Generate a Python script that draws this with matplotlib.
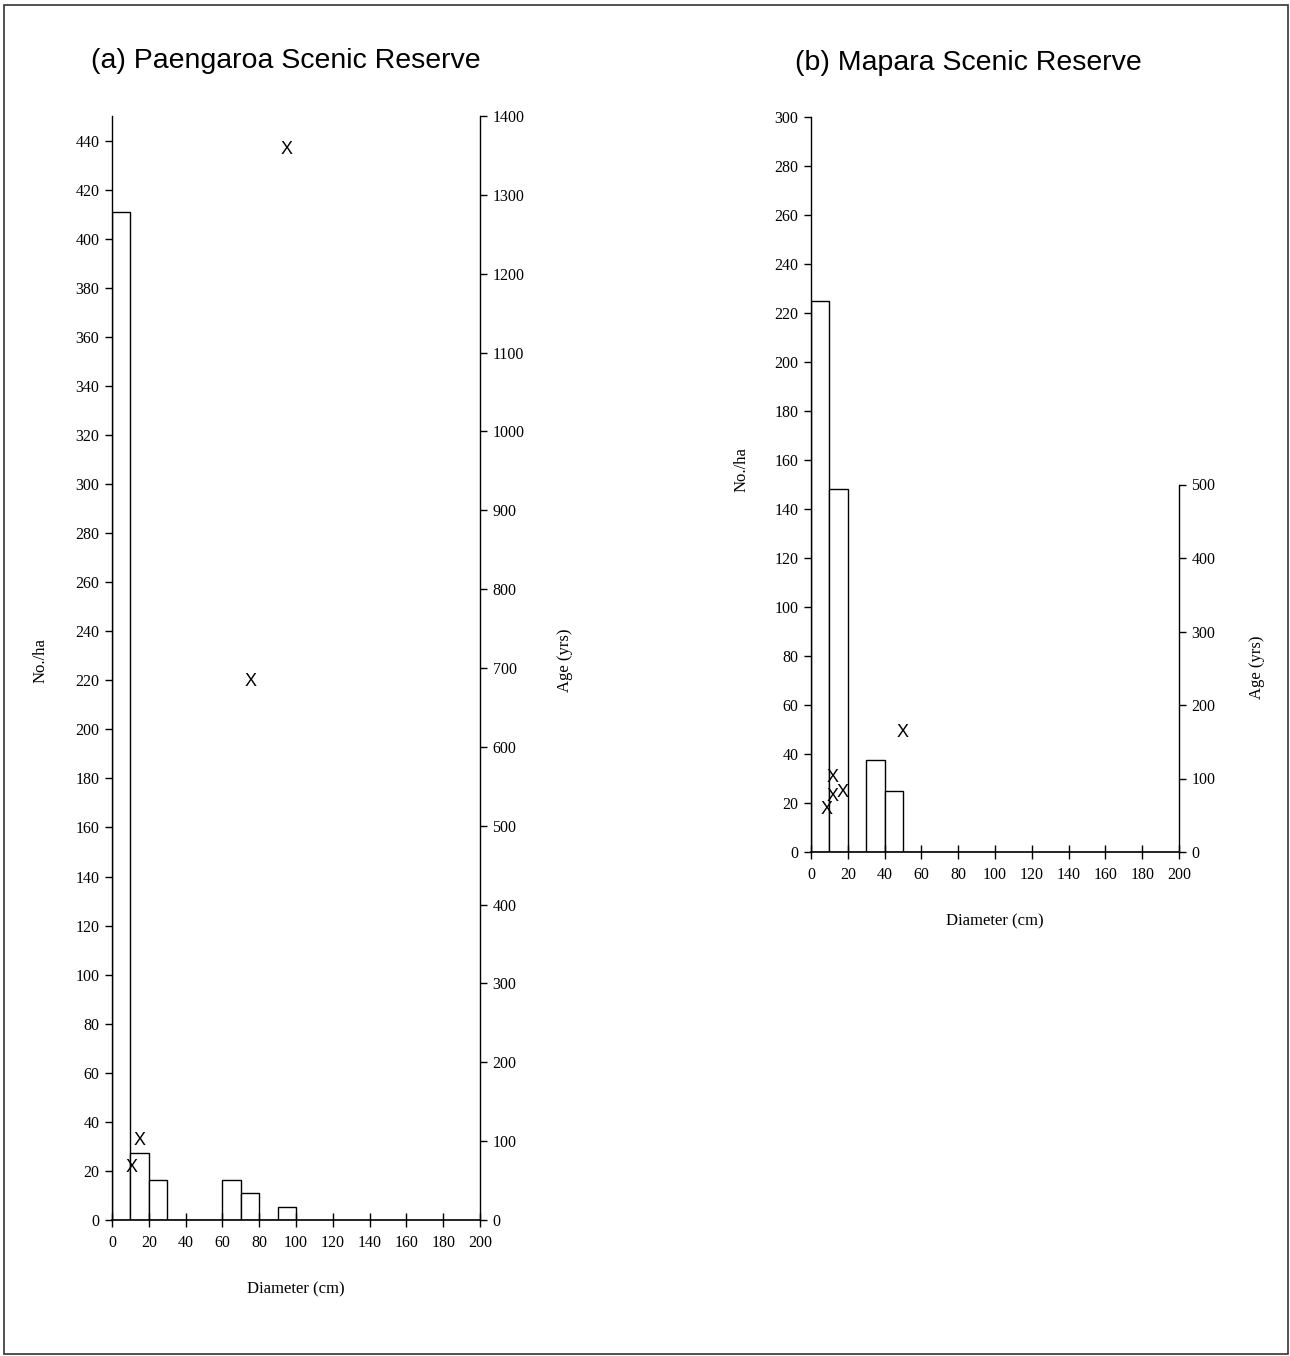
#!/usr/bin/env python3
"""Diameter distribution (No./ha) with tree ages, two scenic reserves."""
import matplotlib
matplotlib.use("Agg")
import matplotlib.pyplot as plt
from matplotlib.patches import Rectangle

# --- data ------------------------------------------------------------
bin_left = [0, 10, 20, 30, 40, 50, 60, 70, 80, 90]
bin_width = 10

# (a) Paengaroa: stems per ha per 10 cm class
paeng_density = [411, 27.5, 16.5, 0, 0, 0, 16.5, 11, 0, 5.5]
# (a) aged trees: diameter (cm), age (yrs)
paeng_age_diam = [10.9, 14.8, 75.5, 95.0]
paeng_age_yrs = [66, 101, 683, 1358]

# (b) Mapara
mapara_density = [225, 148, 0, 37.5, 25, 0, 0, 0, 0, 0]
mapara_age_diam = [8.7, 12.0, 12.0, 17.4, 50.0]
mapara_age_yrs = [58, 102, 76, 81, 163]

panels = [
    dict(title="(a) Paengaroa Scenic Reserve", dens=paeng_density,
         ad=paeng_age_diam, ay=paeng_age_yrs,
         ylim=450, yticks=range(0, 441, 20),
         ylim2=1400, yticks2=range(0, 1401, 100), bound2=1400,
         rect=[112 / 1290, 136 / 1356, 368 / 1290, 1104 / 1356],
         title_xy=(286 / 1290, 1 - 61 / 1356),
         ylab=(-63 / 368, 0.507), ylab2=(1 + 77 / 368, 0.507)),
    dict(title="(b) Mapara Scenic Reserve", dens=mapara_density,
         ad=mapara_age_diam, ay=mapara_age_yrs,
         ylim=300, yticks=range(0, 301, 20),
         ylim2=1000, yticks2=range(0, 501, 100), bound2=500,
         rect=[811 / 1290, 504 / 1356, 368 / 1290, 735 / 1356],
         title_xy=(968 / 1290, 1 - 63 / 1356),
         ylab=(-61 / 368, (852 - 470) / 735),
         ylab2=(1 + 70 / 368, (852 - 667) / 735)),
]

serif = "Liberation Serif"
sans = "Liberation Sans"

fig = plt.figure(figsize=(12.9, 13.56), dpi=100)
fig.patches.append(Rectangle((4 / 1290, 2 / 1356), 1284 / 1290, 1349 / 1356,
                             transform=fig.transFigure, fill=False,
                             edgecolor="#333333", linewidth=1.2))

for p in panels:
    ax = fig.add_axes(p["rect"])
    ax.bar(bin_left, p["dens"], width=bin_width, align="edge",
           facecolor="white", edgecolor="black", linewidth=1.0)
    ax.set_xlim(0, 200)
    ax.set_ylim(0, p["ylim"])
    ax.set_xticks(range(0, 201, 20))
    ax.set_yticks(list(p["yticks"]))
    for s in ("top", "right"):
        ax.spines[s].set_visible(False)
    ax.spines["left"].set_linewidth(1.0)
    ax.spines["bottom"].set_linewidth(1.2)
    ax.tick_params(axis="x", direction="inout", length=10, width=1.0,
                   pad=6, labelsize=11.5)
    ax.tick_params(axis="y", direction="out", length=5, width=1.0,
                   pad=4, labelsize=11.5)
    for lab in ax.get_xticklabels() + ax.get_yticklabels():
        lab.set_family(serif)
    ax.set_xlabel("Diameter (cm)", family=serif, fontsize=12, labelpad=22)
    ax.set_ylabel("No./ha", family=serif, fontsize=12)
    ax.yaxis.set_label_coords(*p["ylab"])
    fig.text(*p["title_xy"], p["title"], family=sans, fontsize=20.5,
             ha="center", va="center")

    ax2 = ax.twinx()
    ax2.set_ylim(0, p["ylim2"])
    ax2.set_yticks(list(p["yticks2"]))
    for s in ("top", "left", "bottom"):
        ax2.spines[s].set_visible(False)
    ax2.spines["right"].set_bounds(0, p["bound2"])
    ax2.spines["right"].set_linewidth(1.0)
    ax2.tick_params(axis="y", direction="out", length=5, width=1.0,
                    pad=4, labelsize=11.5)
    for lab in ax2.get_yticklabels():
        lab.set_family(serif)
    ax2.set_ylabel("Age (yrs)", family=serif, fontsize=12)
    ax2.yaxis.set_label_coords(*p["ylab2"])
    for d, a in zip(p["ad"], p["ay"]):
        ax2.text(d, a, "X", family=sans, fontsize=13,
                 ha="center", va="center")

fig.savefig("out.png", dpi=100)
